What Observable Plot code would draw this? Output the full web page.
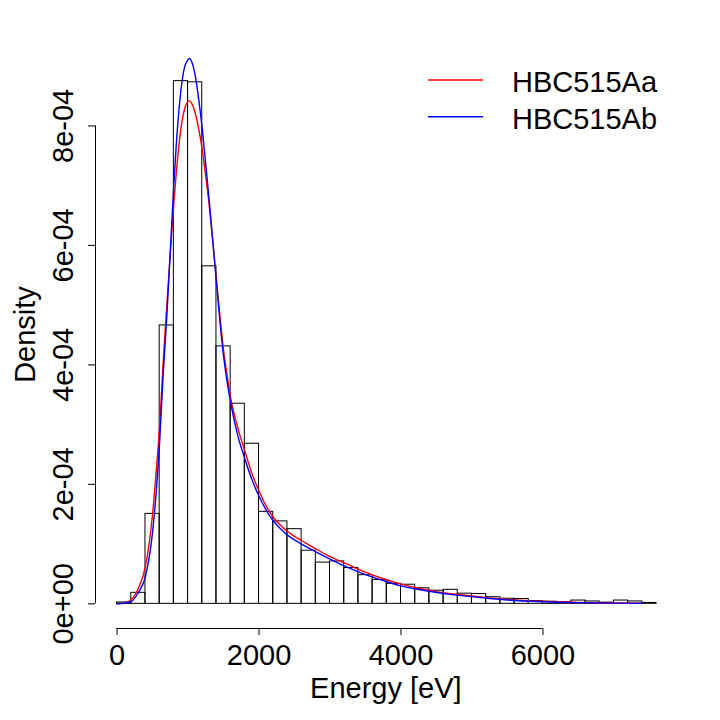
<!DOCTYPE html>
<html>
<head>
<meta charset="utf-8">
<script src="https://cdn.jsdelivr.net/npm/d3@7"></script>
<script src="https://cdn.jsdelivr.net/npm/@observablehq/plot@0.6"></script>
<style>
  html, body { margin: 0; padding: 0; background: #fff; }
  #chart { width: 720px; height: 720px; }
</style>
</head>
<body>
<div id="chart"></div>
<script>
// ---- data ----
const binLeft = [0,200,400,600,800,1000,1200,1400,1600,1800,2000,2200,2400,2600,2800,3000,3200,3400,3600,3800,4000,4200,4400,4600,4800,5000,5200,5400,5600,5800,6000,6200,6400,6600,6800,7000,7200,7400];
const binRight = [200,400,600,800,1000,1200,1400,1600,1800,2000,2200,2400,2600,2800,3000,3200,3400,3600,3800,4000,4200,4400,4600,4800,5000,5200,5400,5600,5800,6000,6200,6400,6600,6800,7000,7200,7400,7600];
const binDensity = [0.022e-4,0.184e-4,1.506e-4,4.66e-4,8.75e-4,8.73e-4,5.65e-4,4.31e-4,3.35e-4,2.68e-4,1.54e-4,1.38e-4,1.25e-4,0.89e-4,0.69e-4,0.71e-4,0.60e-4,0.48e-4,0.40e-4,0.335e-4,0.32e-4,0.26e-4,0.22e-4,0.235e-4,0.17e-4,0.165e-4,0.11e-4,0.085e-4,0.08e-4,0.045e-4,0.035e-4,0.03e-4,0.055e-4,0.04e-4,0.02e-4,0.055e-4,0.04e-4,0.015e-4];

const curveX = [0,100,200,300,400,500,550,600,650,700,750,800,850,900,950,1000,1020,1050,1100,1150,1200,1250,1300,1350,1400,1450,1500,1550,1600,1700,1800,1900,2000,2100,2200,2300,2400,2500,2600,2800,3000,3250,3500,3750,4000,4250,4500,4750,5000,5250,5500,6000,6500,7000,7400];
const densityAa = [0,0.015e-4,0.07e-4,0.26e-4,0.63e-4,1.50e-4,2.20e-4,2.98e-4,4.05e-4,4.98e-4,5.88e-4,6.72e-4,7.42e-4,7.96e-4,8.28e-4,8.41e-4,8.42e-4,8.38e-4,8.22e-4,7.95e-4,7.60e-4,7.15e-4,6.65e-4,6.05e-4,5.42e-4,4.80e-4,4.25e-4,3.82e-4,3.45e-4,2.95e-4,2.56e-4,2.18e-4,1.89e-4,1.64e-4,1.45e-4,1.32e-4,1.21e-4,1.13e-4,1.06e-4,0.92e-4,0.79e-4,0.66e-4,0.53e-4,0.42e-4,0.33e-4,0.26e-4,0.205e-4,0.165e-4,0.13e-4,0.10e-4,0.075e-4,0.042e-4,0.025e-4,0.015e-4,0.01e-4];
const densityAb = [0,0.01e-4,0.04e-4,0.19e-4,0.46e-4,1.20e-4,1.85e-4,2.72e-4,3.85e-4,4.80e-4,5.90e-4,7.02e-4,7.95e-4,8.60e-4,8.98e-4,9.11e-4,9.13e-4,9.08e-4,8.85e-4,8.45e-4,7.95e-4,7.35e-4,6.72e-4,6.05e-4,5.38e-4,4.72e-4,4.15e-4,3.72e-4,3.37e-4,2.82e-4,2.43e-4,2.08e-4,1.80e-4,1.57e-4,1.39e-4,1.26e-4,1.15e-4,1.07e-4,1.00e-4,0.87e-4,0.75e-4,0.61e-4,0.49e-4,0.39e-4,0.30e-4,0.24e-4,0.19e-4,0.15e-4,0.12e-4,0.09e-4,0.065e-4,0.035e-4,0.02e-4,0.012e-4,0.008e-4];

const seriesNames = ["HBC515Aa","HBC515Ab"];
const seriesColors = ["#ff0000","#0000ff"];
const xTicks = [0,2000,4000,6000];
const yTicks = [0,2e-4,4e-4,6e-4,8e-4];
const yTickLabels = ["0e+00","2e-04","4e-04","6e-04","8e-04"];
const xTitle = "Energy [eV]";
const yTitle = "Density";

// ---- build tables ----
const bars = binLeft.map((x1, i) => ({x1, x2: binRight[i], y: binDensity[i]}));
const curveAa = curveX.map((x, i) => ({x, y: densityAa[i]}));
const curveAb = curveX.map((x, i) => ({x, y: densityAb[i]}));

const FONT = "Liberation Sans, Arial, Helvetica, sans-serif";
const FS = 29;
const xDomain = [-304, 7904];
const yDomain = [-0.0000413, 0.000943];

const chart = Plot.plot({
  width: 720,
  height: 720,
  marginLeft: 95,
  marginRight: 42.4,
  marginTop: 40,
  marginBottom: 92,
  x: {domain: xDomain},
  y: {domain: yDomain},
  style: {fontFamily: FONT, fontSize: FS + "px", background: "#fff", color: "#000"},
  marks: [
    Plot.rect(bars, {x1: "x1", x2: "x2", y1: 0, y2: "y", fill: "none", stroke: "#000", strokeWidth: 1}),
    Plot.line(curveAa, {x: "x", y: "y", stroke: seriesColors[0], strokeWidth: 1.4, curve: "monotone-x"}),
    Plot.line(curveAb, {x: "x", y: "y", stroke: seriesColors[1], strokeWidth: 1.4, curve: "monotone-x"}),
    // x axis
    Plot.ruleY([yDomain[0]], {x1: xTicks[0], x2: xTicks[xTicks.length - 1], stroke: "#000", strokeWidth: 1}),
    Plot.axisX({ticks: xTicks, tickSize: 7, tickPadding: 9, tickFormat: d => String(d), fontSize: FS, label: null, stroke: "#000"}),
    Plot.text([xTitle], {frameAnchor: "bottom", dy: 69, dx: -1, lineAnchor: "bottom", fontSize: FS, fill: "#000"}),
    // y axis
    Plot.ruleX([xDomain[0]], {y1: yTicks[0], y2: yTicks[yTicks.length - 1], stroke: "#000", strokeWidth: 1}),
    Plot.axisY({ticks: yTicks, tickSize: 7, tickFormat: () => "", label: null, stroke: "#000"}),
    Plot.text(yTicks, {y: d => d, frameAnchor: "left", dx: -32, rotate: -90, text: (d, i) => yTickLabels[i], textAnchor: "middle", lineAnchor: "middle", fontSize: FS, fill: "#000"}),
    Plot.text([yTitle], {frameAnchor: "left", dx: -70, rotate: -90, textAnchor: "middle", lineAnchor: "middle", fontSize: FS, fill: "#000"})
  ]
});

// ---- legend (no box, like R's bty="n") ----
const svg = d3.select(chart);
const leg = svg.append("g").attr("font-family", FONT).attr("font-size", FS).attr("text-anchor", "start");
seriesNames.forEach((name, i) => {
  const ly = 80 + i * 36.7;
  leg.append("line").attr("x1", 428).attr("x2", 483).attr("y1", ly).attr("y2", ly)
    .attr("stroke", seriesColors[i]).attr("stroke-width", 1.4);
  leg.append("text").attr("x", 512).attr("y", ly + 2).attr("dy", "0.35em")
    .attr("text-anchor", "start").attr("fill", "#000").text(name);
});

document.getElementById("chart").appendChild(chart);
</script>
</body>
</html>
